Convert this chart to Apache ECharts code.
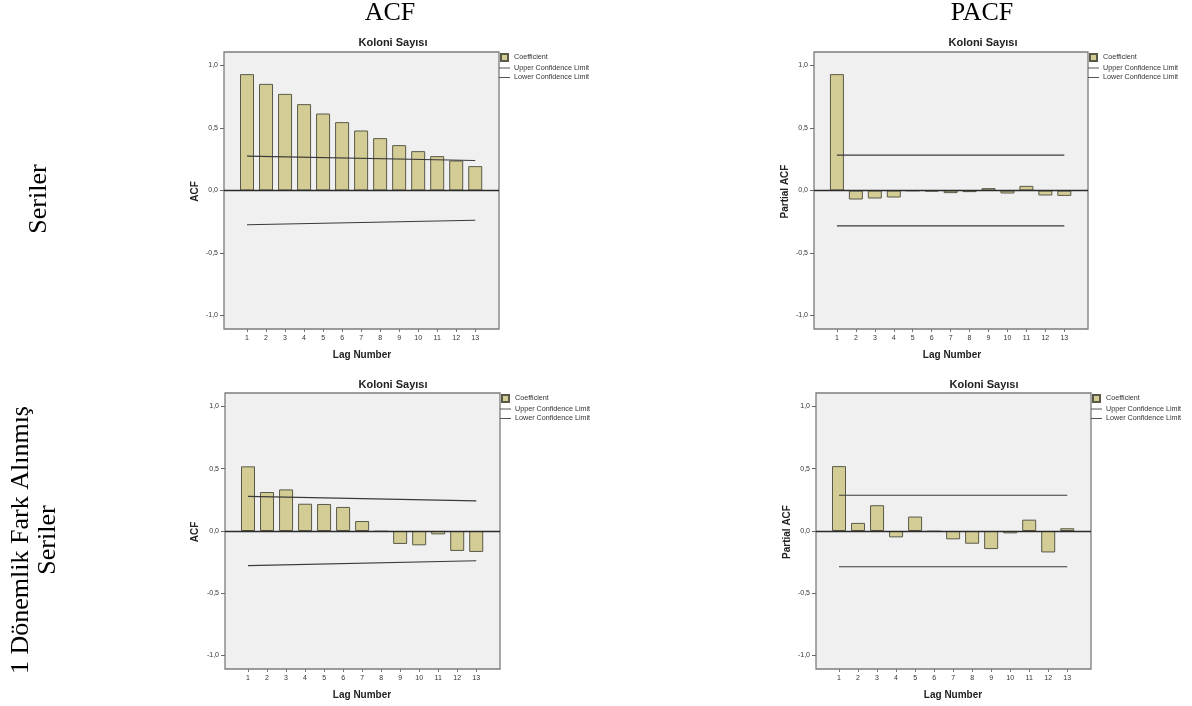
<!DOCTYPE html>
<html>
<head>
<meta charset="utf-8">
<script src="https://cdn.jsdelivr.net/npm/echarts@6/dist/echarts.min.js"></script>
<style>
html,body{margin:0;padding:0;background:#fff;}
#chart{width:1192px;height:706px;}
</style>
</head>
<body>
<div id="chart"></div>
<script>
// ---- data ----
const lags = [1,2,3,4,5,6,7,8,9,10,11,12,13];
const yTickValues = [-1, -0.5, 0, 0.5, 1];

const acfSeries  = [0.931,0.853,0.773,0.691,0.616,0.547,0.480,0.419,0.363,0.315,0.275,0.240,0.195];
const pacfSeries = [0.931,-0.072,-0.064,-0.056,-0.003,-0.008,-0.021,-0.013,0.019,-0.024,0.037,-0.040,-0.043];
const acfDiff    = [0.519,0.313,0.334,0.219,0.217,0.193,0.080,-0.005,-0.104,-0.115,-0.027,-0.160,-0.168];
const pacfDiff   = [0.521,0.065,0.207,-0.051,0.116,-0.005,-0.067,-0.102,-0.145,-0.019,0.091,-0.172,0.022];

const limitLags = [1, 13];
const acfSeriesUpper  = [0.275, 0.240];
const acfSeriesLower  = [-0.274, -0.238];
const pacfSeriesUpper = [0.283, 0.283];
const pacfSeriesLower = [-0.283, -0.283];
const acfDiffUpper    = [0.278, 0.242];
const acfDiffLower    = [-0.278, -0.239];
const pacfDiffUpper   = [0.287, 0.287];
const pacfDiffLower   = [-0.287, -0.287];

const chartTitle = 'Koloni Sayısı';
const colHeaders = ['ACF', 'PACF'];
const rowLabels = ['Seriler', '1 Dönemlik Fark Alınmış\nSeriler'];
const yNames = ['ACF', 'Partial ACF', 'ACF', 'Partial ACF'];
const xName = 'Lag Number';
const legendNames = ['Coefficient', 'Upper Confidence Limit', 'Lower Confidence Limit'];

// ---- layout ----
const panels = [
  {left:224, top:52,  width:275, height:277, vals:acfSeries,  up:acfSeriesUpper,  lo:acfSeriesLower,  titleX:393, titleY:43,  xNameX:362, xNameY:355, yNameX:195, legTop:53},
  {left:814, top:52,  width:274, height:277, vals:pacfSeries, up:pacfSeriesUpper, lo:pacfSeriesLower, titleX:983, titleY:43,  xNameX:952, xNameY:355, yNameX:785, legTop:53},
  {left:225, top:393, width:275, height:276, vals:acfDiff,    up:acfDiffUpper,    lo:acfDiffLower,    titleX:393, titleY:385, xNameX:362, xNameY:695, yNameX:195, legTop:394},
  {left:816, top:393, width:275, height:276, vals:pacfDiff,   up:pacfDiffUpper,   lo:pacfDiffLower,   titleX:984, titleY:385, xNameX:953, xNameY:695, yNameX:787, legTop:394}
];

const sans = '"Liberation Sans", Arial, sans-serif';
const serif = '"Liberation Serif", "Times New Roman", serif';
const barFill = '#d3cd95';
const barBorder = '#5a5949';
const limitColor = '#3a3a3a';

const grid = [], xAxis = [], yAxis = [], series = [], legend = [], graphic = [];

panels.forEach((p, i) => {
  grid.push({left:p.left, top:p.top, width:p.width, height:p.height, show:true,
    backgroundColor:'#f0f0f0', borderColor:'#7c7c7c', borderWidth:1.3});
  xAxis.push({type:'value', gridIndex:i, min:-0.21, max:14.25,
    axisLine:{show:false, onZero:false}, splitLine:{show:false},
    axisTick:{show:true, customValues:lags, length:3, lineStyle:{color:'#777'}},
    axisLabel:{customValues:lags, margin:6, fontSize:7, fontFamily:sans, color:'#333'}});
  yAxis.push({type:'value', gridIndex:i, min:-1.108, max:1.108,
    axisLine:{show:false, onZero:false}, splitLine:{show:false},
    axisTick:{show:true, customValues:yTickValues, length:4, lineStyle:{color:'#666'}},
    axisLabel:{customValues:yTickValues, margin:6, fontSize:7, fontFamily:sans, color:'#333',
      formatter: v => v.toFixed(1).replace('.', ',')}});
  series.push({type:'bar', name:legendNames[0], xAxisIndex:i, yAxisIndex:i, barWidth:14,
    data: lags.map((l, k) => [l, p.vals[k]]),
    itemStyle:{color:barFill, borderColor:barBorder, borderWidth:1},
    markLine:{silent:true, symbol:['none','none'], label:{show:false},
      lineStyle:{color:'#2b2b2b', width:1.3, type:'solid'}, data:[{yAxis:0}]}});
  series.push({type:'line', name:legendNames[1], xAxisIndex:i, yAxisIndex:i, symbol:'none', showSymbol:false,
    data: limitLags.map((l, k) => [l, p.up[k]]), lineStyle:{color:limitColor, width:1.2}, itemStyle:{color:limitColor}});
  series.push({type:'line', name:legendNames[2], xAxisIndex:i, yAxisIndex:i, symbol:'none', showSymbol:false,
    data: limitLags.map((l, k) => [l, p.lo[k]]), lineStyle:{color:limitColor, width:1.2}, itemStyle:{color:limitColor}});
  legend.push({left:p.left + p.width, top:p.legTop, orient:'vertical', padding:0,
    itemWidth:11, itemHeight:7, itemGap:2.5, selectedMode:false, symbolKeepAspect:true,
    textStyle:{fontSize:7.2, lineHeight:7, fontFamily:sans, color:'#333', padding:[0,0,0,-1]},
    data:[{name:legendNames[0], icon:'path://M0,0H10V10H0Z'},
          {name:legendNames[1], icon:'path://M0,0H22V2H0Z', itemStyle:{color:'#555', borderWidth:0}},
          {name:legendNames[2], icon:'path://M0,0H22V2H0Z', itemStyle:{color:'#555', borderWidth:0}}]});
  graphic.push({type:'text', x:p.titleX, y:p.titleY, style:{text:chartTitle, fontSize:11, fontWeight:'bold',
    fontFamily:sans, fill:'#222', align:'center', verticalAlign:'middle'}});
  graphic.push({type:'text', x:p.xNameX, y:p.xNameY, style:{text:xName, fontSize:10, fontWeight:'bold',
    fontFamily:sans, fill:'#222', align:'center', verticalAlign:'middle'}});
  graphic.push({type:'text', x:p.yNameX, y:p.top + p.height/2 + 1, rotation:Math.PI/2, style:{text:yNames[i], fontSize:10, fontWeight:'bold',
    fontFamily:sans, fill:'#222', align:'center', verticalAlign:'middle'}});
});

graphic.push({type:'text', x:390, y:13, style:{text:colHeaders[0], fontSize:26, fontFamily:serif, fill:'#000', align:'center', verticalAlign:'middle'}});
graphic.push({type:'text', x:982, y:13, style:{text:colHeaders[1], fontSize:26, fontFamily:serif, fill:'#000', align:'center', verticalAlign:'middle'}});
graphic.push({type:'text', x:39, y:199, rotation:Math.PI/2, style:{text:rowLabels[0], fontSize:26, fontFamily:serif, fill:'#000', align:'center', verticalAlign:'middle'}});
graphic.push({type:'text', x:35, y:540, rotation:Math.PI/2, style:{text:rowLabels[1], fontSize:26, lineHeight:27, fontFamily:serif, fill:'#000', align:'center', verticalAlign:'middle'}});

const chart = echarts.init(document.getElementById('chart'), null, {renderer:'canvas'});
chart.setOption({animation:false, backgroundColor:'#fff', grid, xAxis, yAxis, series, legend, graphic});
</script>
</body>
</html>
